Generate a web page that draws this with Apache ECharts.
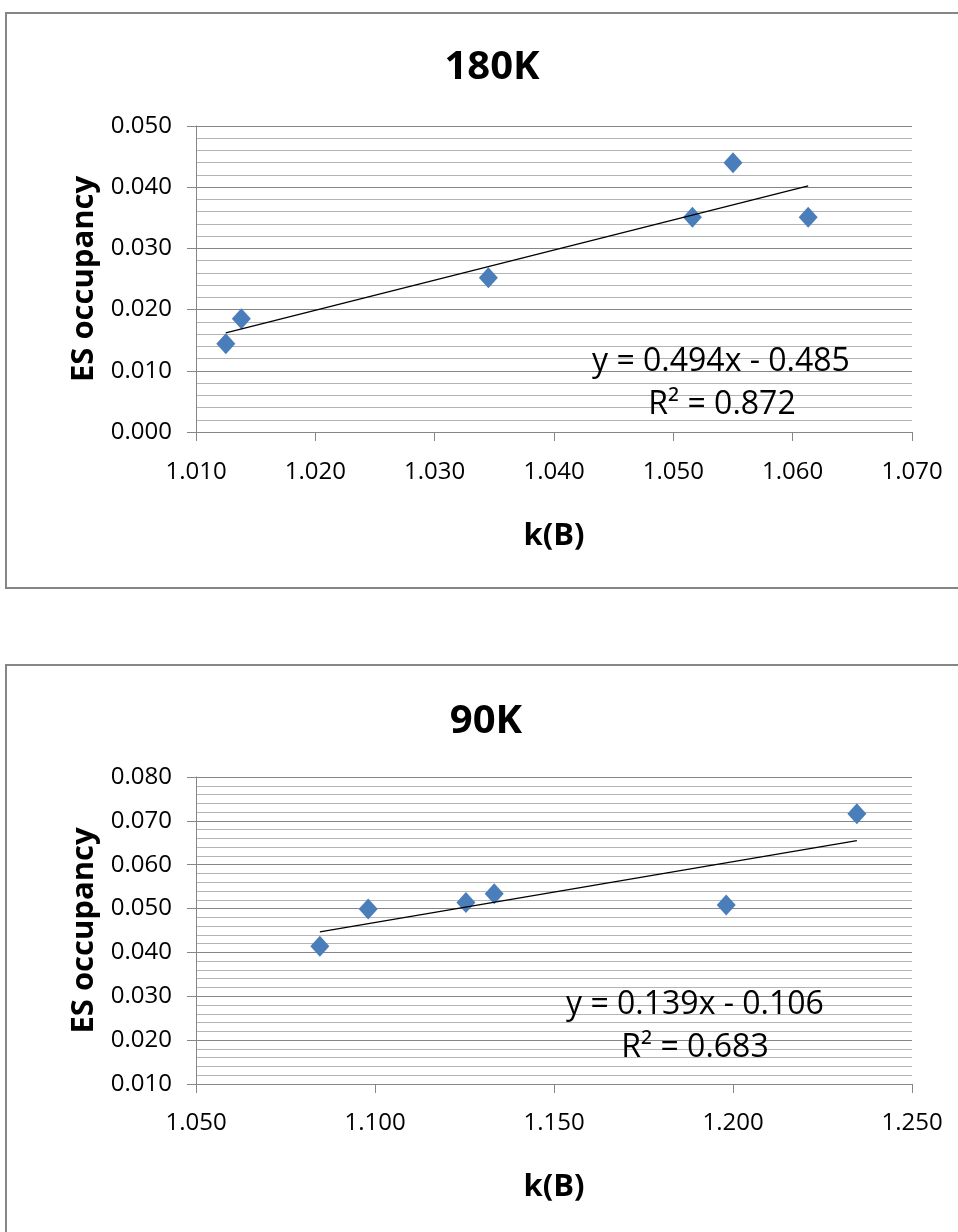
<!DOCTYPE html>
<html>
<head>
<meta charset="utf-8">
<script src="https://cdn.jsdelivr.net/npm/echarts@6/dist/echarts.min.js"></script>
<style>
html,body{margin:0;padding:0;background:#fff;}
#c{width:958px;height:1232px;}
</style>
</head>
<body>
<div id="c"></div>
<script>
// ---- Data ----
const titles = ['180K', '90K'];
const xAxisTitle = 'k(B)';
const yAxisTitle = 'ES occupancy';

// 180K panel
const pts180 = [[1.0125, 0.0144], [1.0138, 0.0185], [1.0345, 0.0252], [1.0516, 0.0351], [1.0550, 0.0440], [1.0613, 0.0351]];
const trend180 = [[1.0125, 0.0162], [1.0613, 0.0402]];
const eq180 = ['y = 0.494x - 0.485', 'R² = 0.872'];
const yTicks180 = [0.000, 0.010, 0.020, 0.030, 0.040, 0.050];
const xTicks180 = [1.010, 1.020, 1.030, 1.040, 1.050, 1.060, 1.070];

// 90K panel
const pts90 = [[1.0846, 0.0414], [1.0981, 0.0499], [1.1254, 0.0514], [1.1333, 0.0534], [1.1981, 0.0508], [1.2346, 0.0716]];
const trend90 = [[1.0846, 0.0447], [1.2346, 0.0655]];
const eq90 = ['y = 0.139x - 0.106', 'R² = 0.683'];
const yTicks90 = [0.010, 0.020, 0.030, 0.040, 0.050, 0.060, 0.070, 0.080];
const xTicks90 = [1.050, 1.100, 1.150, 1.200, 1.250];

// ---- Styles ----
const FONT = "'Open Sans', 'Noto Sans', sans-serif";
const AXIS_GRAY = '#868686';
const MINOR_GRAY = '#b4b4b4';
const BLUE = '#4A7EBB';

function yAxis(gridIndex, ticks) {
  return {
    type: 'value', gridIndex,
    min: ticks[0], max: ticks[ticks.length - 1], interval: ticks[1] - ticks[0],
    name: yAxisTitle, nameLocation: 'middle', nameGap: 84, nameRotate: 90,
    nameTextStyle: { fontFamily: FONT, fontWeight: 'bold', fontSize: 31, color: '#000' },
    axisLine: { show: true, lineStyle: { color: AXIS_GRAY, width: 1 } },
    axisTick: { show: true, length: 9, lineStyle: { color: AXIS_GRAY } },
    axisLabel: { margin: 24, fontFamily: FONT, fontSize: 24, color: '#000', formatter: v => v.toFixed(3) },
    splitLine: { show: true, lineStyle: { color: AXIS_GRAY, width: 1 } },
    minorTick: { show: false, splitNumber: 5 },
    minorSplitLine: { show: true, lineStyle: { color: MINOR_GRAY, width: 1 } }
  };
}
function xAxis(gridIndex, ticks, nameGap, margin) {
  return {
    type: 'value', gridIndex,
    min: ticks[0], max: ticks[ticks.length - 1], interval: ticks[1] - ticks[0],
    name: xAxisTitle, nameLocation: 'middle', nameGap,
    nameTextStyle: { fontFamily: FONT, fontWeight: 'bold', fontSize: 31, color: '#000' },
    axisLine: { show: true, onZero: false, lineStyle: { color: AXIS_GRAY, width: 1 } },
    axisTick: { show: true, length: 9, lineStyle: { color: AXIS_GRAY } },
    axisLabel: { margin, fontFamily: FONT, fontSize: 24, color: '#000', formatter: v => v.toFixed(3) },
    splitLine: { show: false }
  };
}
function scatter(i, data) {
  return { type: 'scatter', xAxisIndex: i, yAxisIndex: i, data, symbol: 'diamond', symbolSize: [19, 21],
    itemStyle: { color: BLUE, opacity: 1 }, z: 2, silent: true };
}
function trend(i, data) {
  return { type: 'line', xAxisIndex: i, yAxisIndex: i, data, showSymbol: false, symbol: 'none',
    lineStyle: { color: '#000', width: 1.3 }, z: 3, silent: true, animation: false };
}
function txt(x, y, text, size, bold) {
  return { type: 'text', x, y, z: 10,
    style: { text, fontFamily: FONT, fontSize: size, fontWeight: bold ? 'bold' : 'normal', fill: '#000',
      align: 'center', verticalAlign: 'middle' } };
}

const chart = echarts.init(document.getElementById('c'), null, { renderer: 'canvas' });
chart.setOption({
  animation: false,
  backgroundColor: '#fff',
  grid: [
    { left: 196, top: 126, width: 716, height: 306 },
    { left: 196, top: 777, width: 716, height: 307 }
  ],
  xAxis: [xAxis(0, xTicks180, 89, 28), xAxis(1, xTicks90, 88, 27)],
  yAxis: [yAxis(0, yTicks180), yAxis(1, yTicks90)],
  series: [scatter(0, pts180), trend(0, trend180), scatter(1, pts90), trend(1, trend90)],
  graphic: [
    { type: 'rect', shape: { x: 6, y: 13, width: 970, height: 575 }, style: { fill: 'none', stroke: AXIS_GRAY, lineWidth: 2 }, z: 0 },
    { type: 'rect', shape: { x: 6, y: 665, width: 970, height: 600 }, style: { fill: 'none', stroke: AXIS_GRAY, lineWidth: 2 }, z: 0 },
    txt(492, 68, titles[0], 40, true),
    txt(486, 722, titles[1], 40, true),
    txt(721, 362, eq180[0], 32, false),
    txt(722, 405, eq180[1], 32, false),
    txt(695, 1005, eq90[0], 32, false),
    txt(695, 1048, eq90[1], 32, false)
  ]
});
</script>
</body>
</html>
